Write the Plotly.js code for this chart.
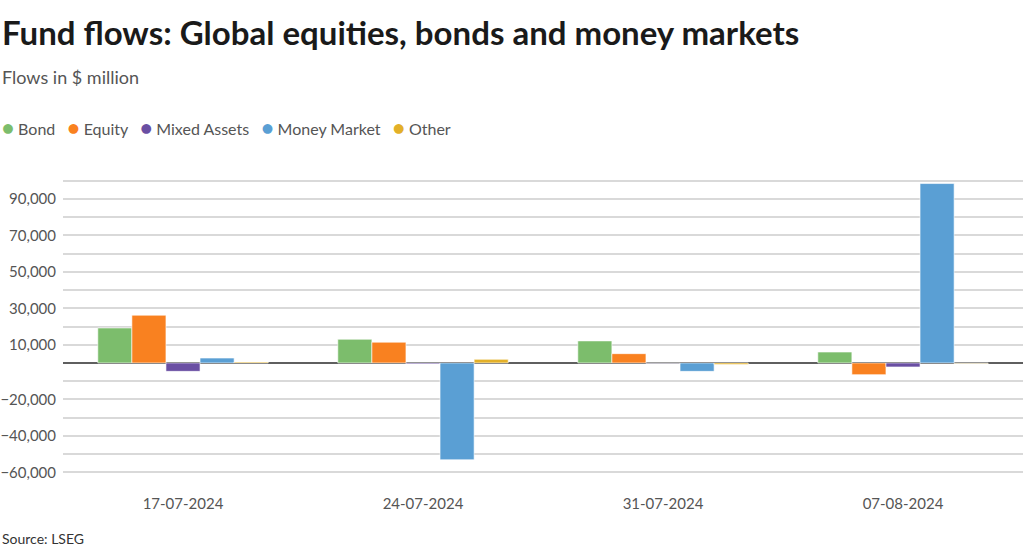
<!DOCTYPE html>
<html>
<head>
<meta charset="utf-8">
<script src="https://cdn.plot.ly/plotly-3.0.1.min.js"></script>
<style>
  html, body { margin: 0; padding: 0; background: #fff; }
  #chart { width: 1024px; height: 552px; }
</style>
</head>
<body>
<div id="chart"></div>
<script>
// Weekly fund flows, $ million
const weeks = ['17-07-2024', '24-07-2024', '31-07-2024', '07-08-2024'];
const bond = [19200, 13000, 12100, 6000];
const equity = [26200, 11400, 5100, -6400];
const mixedAssets = [-4600, -500, -200, -2200];
const moneyMarket = [2700, -53100, -4600, 98400];
const other = [500, 2000, -900, -300];

// gridlines every 10k, only some labelled
const yTickVals = [-60000, -50000, -40000, -30000, -20000, -10000, 0, 10000, 20000, 30000, 40000, 50000, 60000, 70000, 80000, 90000, 100000];
const yTickText = ['−60,000', '', '−40,000', '', '−20,000', '', '', '10,000', '', '30,000', '', '50,000', '', '70,000', '', '90,000', ''];

const seriesList = [
    { name: 'Bond', values: bond, color: '#7cbd6c' },
    { name: 'Equity', values: equity, color: '#f98120' },
    { name: 'Mixed Assets', values: mixedAssets, color: '#6a4fa3' },
    { name: 'Money Market', values: moneyMarket, color: '#5a9fd4' },
    { name: 'Other', values: other, color: '#e3b028' }
];

const font = 'Lato, "Source Sans Pro", "Noto Sans", sans-serif';

const traces = seriesList.map(s => ({
    type: 'bar',
    name: s.name,
    x: weeks,
    y: s.values,
    marker: { color: s.color, line: { color: 'rgba(255,255,255,0.6)', width: 1 } },
    hoverinfo: 'x+y+name'
}));

// legend written as one line of text with round dots, like the original
const nb = '\u00a0';
const legendText = seriesList
    .map(s => `<span style="color:${s.color};font-size:20px">●</span>${nb}${s.name}`)
    .join(nb + nb + nb);

const layout = {
    width: 1024,
    height: 552,
    margin: { l: 63, r: 1, t: 177, b: 76 },
    paper_bgcolor: '#ffffff',
    plot_bgcolor: '#ffffff',
    font: { family: font, color: '#555555', size: 15 },
    barmode: 'group',
    bargap: 0.29,
    bargroupgap: 0,
    showlegend: false,
    xaxis: {
        type: 'category',
        range: [-0.5, 3.5],
        showgrid: false,
        zeroline: false,
        showline: false,
        ticks: 'outside',
        ticklen: 14,
        tickcolor: 'rgba(0,0,0,0)',
        tickfont: { family: font, size: 15, color: '#555555' },
        fixedrange: true
    },
    yaxis: {
        range: [-62000, 102000],
        tickmode: 'array',
        tickvals: yTickVals,
        ticktext: yTickText,
        showgrid: true,
        gridcolor: '#d9d9d9',
        gridwidth: 1.5,
        zeroline: true,
        zerolinecolor: '#5f5f5f',
        zerolinewidth: 1.5,
        showline: false,
        ticklabelstandoff: 6,
        tickfont: { family: font, size: 15, color: '#555555' },
        fixedrange: true
    },
    annotations: [
        {
            text: '<b>Fund flows: Global equities, bonds and money markets</b>',
            xref: 'paper', yref: 'paper',
            x: -63 / 960, y: (476 - 32) / 299,
            xanchor: 'left', yanchor: 'middle',
            showarrow: false,
            font: { family: font, size: 33, color: '#1a1a1a' }
        },
        {
            text: 'Flows in $ million',
            xref: 'paper', yref: 'paper',
            x: -63 / 960, y: (476 - 77) / 299,
            xanchor: 'left', yanchor: 'middle',
            showarrow: false,
            font: { family: font, size: 18, color: '#555555' }
        },
        {
            text: legendText,
            xref: 'paper', yref: 'paper',
            x: -63 / 960, y: (476 - 127) / 299,
            xanchor: 'left', yanchor: 'middle',
            showarrow: false,
            font: { family: font, size: 16, color: '#555555' }
        },
        {
            text: 'Source: LSEG',
            xref: 'paper', yref: 'paper',
            x: -63 / 960, y: (476 - 538) / 299,
            xanchor: 'left', yanchor: 'middle',
            showarrow: false,
            font: { family: font, size: 14, color: '#333333' }
        }
    ]
};

Plotly.newPlot('chart', traces, layout, { displayModeBar: false });
</script>
</body>
</html>
